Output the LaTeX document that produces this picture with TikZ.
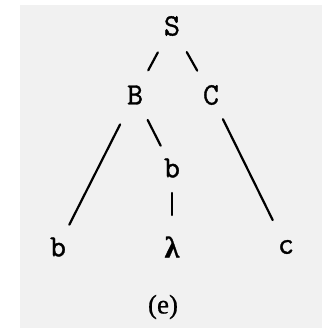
\documentclass[tikz,border=0pt]{standalone}
\usepackage{fontspec}
\setmonofont[FakeBold=1.2]{Latin Modern Mono}
\newfontfamily\lamfont[FakeBold=0.8]{Liberation Serif Bold}
\newfontfamily\capfont[FakeBold=0.6]{Liberation Serif}
\definecolor{panel}{HTML}{F1F1F1}
\begin{document}
\begin{tikzpicture}[x=1pt,y=-1pt,
  lab/.style={inner sep=0pt,font=\fontsize{31}{34}\selectfont\ttfamily},
  edge/.style={line width=2.2pt,line cap=round}]
\useasboundingbox (0,0) rectangle (325,330);
\fill[panel] (20,5) rectangle (322,328);
\node[lab] (S) at (172,26) {S};
\node[lab] (B) at (135,95) {B};
\node[lab] (C) at (211,95) {C};
\node[lab] (b2) at (172,168) {b};
\node[lab] (b1) at (58,247) {b};
\node[lab] (l) at (172,247) {\lamfont\fontsize{30}{32}\selectfont λ};
\node[lab] (c) at (286,247) {c};
\node[inner sep=0pt,font=\fontsize{27}{30}\selectfont\capfont] (cap) at (163,307) {(e)};
\draw[edge,shorten <=30pt,shorten >=28pt] (S.center) -- (B.center);
\draw[edge,shorten <=30pt,shorten >=28pt] (S.center) -- (C.center);
\draw[edge,shorten <=33pt,shorten >=25pt] (B.center) -- (b1.center);
\draw[edge,shorten <=28pt,shorten >=25pt] (B.center) -- (b2.center);
\draw[edge,shorten <=25pt,shorten >=32pt] (b2.center) -- (l.center);
\draw[edge,shorten <=27pt,shorten >=30pt] (C.center) -- (c.center);
\end{tikzpicture}
\end{document}
